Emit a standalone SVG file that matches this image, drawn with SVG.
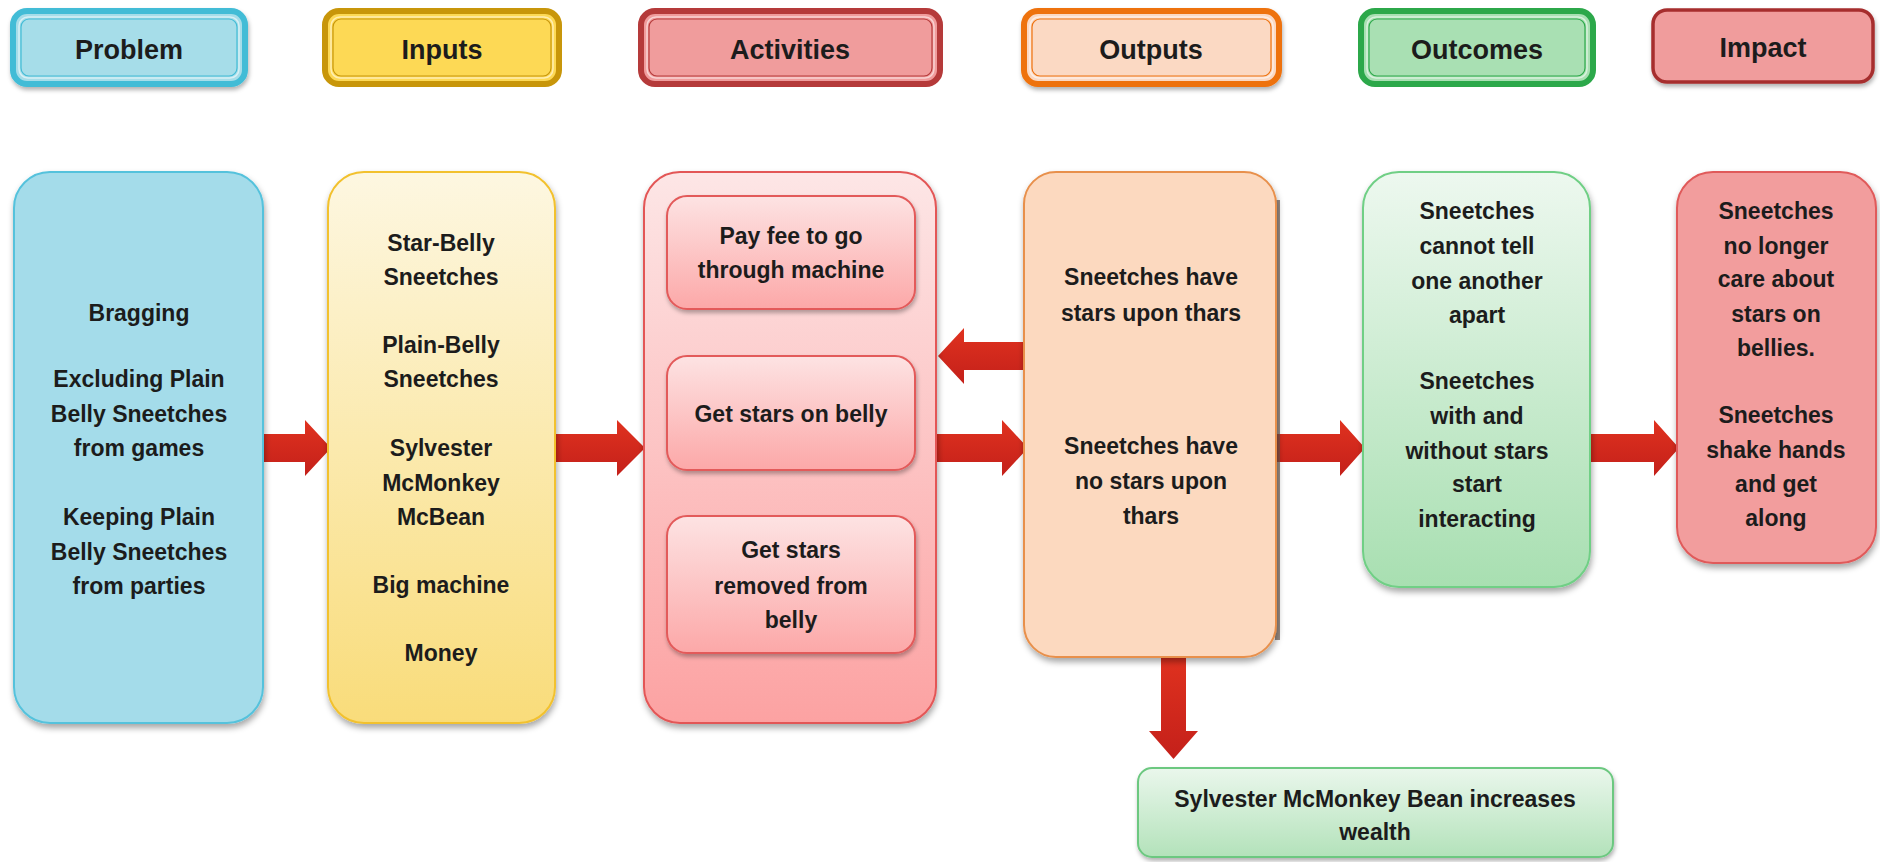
<svg xmlns="http://www.w3.org/2000/svg" width="1880" height="862" viewBox="0 0 1880 862">
<defs>
<style>
text{font-family:"Liberation Sans",Arial,sans-serif;font-weight:bold;fill:#1c1c1c;text-anchor:middle}
.h{font-size:27px}
.b{font-size:23px}
.hd-in{fill:none;stroke:#ffffff;stroke-opacity:.55;stroke-width:1.5}
.arrow{fill:url(#arrowGrad)}
</style>
<linearGradient id="inputsGrad" x1="0" y1="0" x2="0" y2="1"><stop offset="0" stop-color="#fdf7e1"/><stop offset="1" stop-color="#f9dc7a"/></linearGradient>
<linearGradient id="actGrad" x1="0" y1="0" x2="0" y2="1"><stop offset="0" stop-color="#fde6e6"/><stop offset="1" stop-color="#fca2a2"/></linearGradient>
<linearGradient id="subGrad" x1="0" y1="0" x2="0" y2="1"><stop offset="0" stop-color="#fde3e3"/><stop offset="1" stop-color="#fca8a8"/></linearGradient>
<linearGradient id="outcGrad" x1="0" y1="0" x2="0" y2="1"><stop offset="0" stop-color="#edf8ef"/><stop offset="1" stop-color="#a8dfb1"/></linearGradient>
<linearGradient id="botGrad" x1="0" y1="0" x2="0" y2="1"><stop offset="0" stop-color="#eaf7ec"/><stop offset="1" stop-color="#b3e2ba"/></linearGradient>
<linearGradient id="arrowGrad" x1="0" y1="0" x2="0" y2="1"><stop offset="0" stop-color="#e0321f"/><stop offset="1" stop-color="#c4201a"/></linearGradient>
<filter id="sh" x="-10%" y="-10%" width="130%" height="130%"><feDropShadow dx="1" dy="4" stdDeviation="3" flood-color="#000" flood-opacity="0.35"/></filter>
<filter id="shs" x="-10%" y="-10%" width="130%" height="140%"><feDropShadow dx="1" dy="3" stdDeviation="2" flood-color="#000" flood-opacity="0.3"/></filter>
</defs>

<!-- Headers -->
<g id="hdr-problem">
<rect x="13" y="11" width="232" height="73" rx="14" fill="#a6dde9" stroke="#42bcd6" stroke-width="6" filter="url(#shs)"/>
<rect x="19" y="17" width="220" height="61" rx="9" class="hd-in"/>
<rect x="21" y="19" width="216" height="57" rx="8" fill="none" stroke="#42bcd6" stroke-width="1.2"/>
<text class="h" x="129" y="59">Problem</text>
</g>
<g id="hdr-inputs">
<rect x="325" y="11" width="234" height="73" rx="14" fill="#fdd955" stroke="#c8960a" stroke-width="6"/>
<rect x="331" y="17" width="222" height="61" rx="9" class="hd-in"/>
<rect x="333" y="19" width="218" height="57" rx="8" fill="none" stroke="#c8960a" stroke-width="1.2"/>
<text class="h" x="442" y="59">Inputs</text>
</g>
<g id="hdr-activities">
<rect x="641" y="11" width="299" height="73" rx="14" fill="#f09c9c" stroke="#b53a3a" stroke-width="6"/>
<rect x="647" y="17" width="287" height="61" rx="9" class="hd-in"/>
<rect x="649" y="19" width="283" height="57" rx="8" fill="none" stroke="#b53a3a" stroke-width="1.2"/>
<text class="h" x="790" y="59">Activities</text>
</g>
<g id="hdr-outputs">
<rect x="1024" y="11" width="255" height="73" rx="14" fill="#fbd9c3" stroke="#ee720e" stroke-width="6" filter="url(#shs)"/>
<rect x="1030" y="17" width="243" height="61" rx="9" class="hd-in"/>
<rect x="1032" y="19" width="239" height="57" rx="8" fill="none" stroke="#ee720e" stroke-width="1.2"/>
<text class="h" x="1151" y="59">Outputs</text>
</g>
<g id="hdr-outcomes">
<rect x="1361" y="11" width="232" height="73" rx="14" fill="#a9e0b3" stroke="#2ca84a" stroke-width="6"/>
<rect x="1367" y="17" width="220" height="61" rx="9" class="hd-in"/>
<rect x="1369" y="19" width="216" height="57" rx="8" fill="none" stroke="#2ca84a" stroke-width="1.2"/>
<text class="h" x="1477" y="59">Outcomes</text>
</g>
<g id="hdr-impact">
<rect x="1653" y="10" width="220" height="72" rx="14" fill="#f09c9c" stroke="#a62e2e" stroke-width="3.5" filter="url(#shs)"/>
<text class="h" x="1763" y="57">Impact</text>
</g>

<!-- Connectors -->
<g id="connectors">
<path class="arrow" d="M262 434 H305 V420 L331 448 L305 476 V462 H262 Z"/>
<path class="arrow" d="M554 434 H617 V420 L645 448 L617 476 V462 H554 Z"/>
<path class="arrow" d="M1028 342 H964 V328 L938 356 L964 384 V370 H1028 Z"/>
<path class="arrow" d="M937 434 H1002 V420 L1028 448 L1002 476 V462 H937 Z"/>
<path class="arrow" d="M1276 434 H1340 V420 L1365 448 L1340 476 V462 H1276 Z"/>
<path class="arrow" d="M1589 434 H1654 V420 L1679 448 L1654 476 V462 H1589 Z"/>
<path class="arrow" d="M1161 655 V731 H1149 L1173.5 759 L1198 731 H1186 V655 Z"/>
</g>

<!-- Bodies -->
<g id="problem">
<rect x="14" y="172" width="249" height="551" rx="36" fill="#a4dcea" stroke="#55c2dc" stroke-width="2" filter="url(#sh)"/>
<text class="b" x="139" y="321">Bragging</text>
<text class="b" x="139" y="387">Excluding Plain</text>
<text class="b" x="139" y="422">Belly Sneetches</text>
<text class="b" x="139" y="456">from games</text>
<text class="b" x="139" y="525">Keeping Plain</text>
<text class="b" x="139" y="560">Belly Sneetches</text>
<text class="b" x="139" y="594">from parties</text>
</g>
<g id="inputs">
<rect x="328" y="172" width="227" height="551" rx="36" fill="url(#inputsGrad)" stroke="#f2c12e" stroke-width="2" filter="url(#sh)"/>
<text class="b" x="441" y="251">Star-Belly</text>
<text class="b" x="441" y="285">Sneetches</text>
<text class="b" x="441" y="353">Plain-Belly</text>
<text class="b" x="441" y="387">Sneetches</text>
<text class="b" x="441" y="456">Sylvester</text>
<text class="b" x="441" y="491">McMonkey</text>
<text class="b" x="441" y="525">McBean</text>
<text class="b" x="441" y="593">Big machine</text>
<text class="b" x="441" y="661">Money</text>
</g>
<g id="activities">
<rect x="644" y="172" width="292" height="551" rx="36" fill="url(#actGrad)" stroke="#e35656" stroke-width="2" filter="url(#sh)"/>
<g id="act-pay">
<rect x="667" y="196" width="248" height="113" rx="20" fill="url(#subGrad)" stroke="#e35a5a" stroke-width="2" filter="url(#shs)"/>
<text class="b" x="791" y="244">Pay fee to go</text>
<text class="b" x="791" y="278">through machine</text>
</g>
<g id="act-get">
<rect x="667" y="356" width="248" height="114" rx="20" fill="url(#subGrad)" stroke="#e35a5a" stroke-width="2" filter="url(#shs)"/>
<text class="b" x="791" y="422">Get stars on belly</text>
</g>
<g id="act-remove">
<rect x="667" y="516" width="248" height="137" rx="20" fill="url(#subGrad)" stroke="#e35a5a" stroke-width="2" filter="url(#shs)"/>
<text class="b" x="791" y="558">Get stars</text>
<text class="b" x="791" y="594">removed from</text>
<text class="b" x="791" y="628">belly</text>
</g>
</g>
<g id="outputs">
<rect x="1275" y="200" width="5" height="440" fill="#6b5a50" opacity="0.7"/>
<rect x="1024" y="172" width="252" height="485" rx="32" fill="#fcd9bf" stroke="#e8904c" stroke-width="2" filter="url(#sh)"/>
<text class="b" x="1151" y="285">Sneetches have</text>
<text class="b" x="1151" y="321">stars upon thars</text>
<text class="b" x="1151" y="454">Sneetches have</text>
<text class="b" x="1151" y="489">no stars upon</text>
<text class="b" x="1151" y="524">thars</text>
</g>
<g id="outcomes">
<rect x="1363" y="172" width="227" height="415" rx="36" fill="url(#outcGrad)" stroke="#6fcf85" stroke-width="2" filter="url(#sh)"/>
<text class="b" x="1477" y="219">Sneetches</text>
<text class="b" x="1477" y="254">cannot tell</text>
<text class="b" x="1477" y="289">one another</text>
<text class="b" x="1477" y="323">apart</text>
<text class="b" x="1477" y="389">Sneetches</text>
<text class="b" x="1477" y="424">with and</text>
<text class="b" x="1477" y="459">without stars</text>
<text class="b" x="1477" y="492">start</text>
<text class="b" x="1477" y="527">interacting</text>
</g>
<g id="impact">
<rect x="1677" y="172" width="199" height="391" rx="36" fill="#f29d9d" stroke="#e05a5a" stroke-width="2" filter="url(#sh)"/>
<text class="b" x="1776" y="219">Sneetches</text>
<text class="b" x="1776" y="254">no longer</text>
<text class="b" x="1776" y="287">care about</text>
<text class="b" x="1776" y="322">stars on</text>
<text class="b" x="1776" y="356">bellies.</text>
<text class="b" x="1776" y="423">Sneetches</text>
<text class="b" x="1776" y="458">shake hands</text>
<text class="b" x="1776" y="492">and get</text>
<text class="b" x="1776" y="526">along</text>
</g>
<g id="wealth">
<rect x="1138" y="768" width="475" height="89" rx="14" fill="url(#botGrad)" stroke="#6cc880" stroke-width="2" filter="url(#shs)"/>
<text class="b" x="1375" y="807">Sylvester McMonkey Bean increases</text>
<text class="b" x="1375" y="840">wealth</text>
</g>
</svg>
